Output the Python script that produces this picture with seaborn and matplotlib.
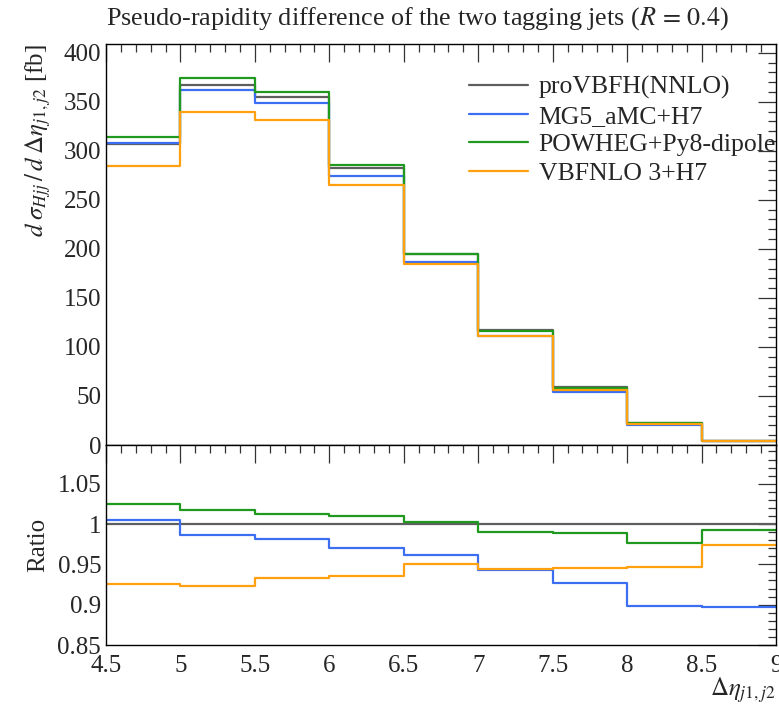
import numpy as np
import pandas as pd
import matplotlib
matplotlib.use("Agg")
import matplotlib.pyplot as plt
from matplotlib.ticker import MultipleLocator, FixedLocator
import seaborn as sns

# ---- data ----
bin_edges = [4.5, 5.0, 5.5, 6.0, 6.5, 7.0, 7.5, 8.0, 8.5, 9.0]
x_tick_labels = ["4.5", "5", "5.5", "6", "6.5", "7", "7.5", "8", "8.5", "9"]
series_names = ["proVBFH(NNLO)", "MG5_aMC+H7", "POWHEG+Py8-dipole", "VBFNLO 3+H7"]
provbfh = [307.0, 367.5, 355.0, 283.0, 194.5, 117.4, 58.8, 22.5, 4.30]
mg5_h7 = [308.4, 362.5, 348.4, 274.5, 187.0, 110.7, 54.53, 20.21, 3.859]
powheg_py8 = [314.5, 374.0, 359.6, 285.9, 194.9, 116.2, 58.12, 21.98, 4.270]
vbfnlo_h7 = [284.2, 339.3, 331.4, 264.8, 184.8, 110.8, 55.60, 21.31, 4.189]
y_ticks_main = [0, 50, 100, 150, 200, 250, 300, 350, 400]
y_ticks_ratio = [0.85, 0.9, 0.95, 1.0, 1.05]
y_tick_labels_ratio = ["0.85", "0.9", "0.95", "1", "1.05"]

colors = ["#5e5e5e", "#3b6ef0", "#1f9a1f", "#ffa00f"]
all_series = [provbfh, mg5_h7, powheg_py8, vbfnlo_h7]

sns.set_theme(style="white")
plt.rcParams["font.family"] = ["Liberation Serif", "DejaVu Serif"]
plt.rcParams["mathtext.fontset"] = "stix"

fig = plt.figure(figsize=(7.79, 7.11), dpi=100)
W, H = 779, 711
left, right = 106 / W, 776 / W
ax = fig.add_axes([left, 1 - 445 / H, right - left, (445 - 44) / H])
axr = fig.add_axes([left, 1 - 645 / H, right - left, (645 - 445) / H], sharex=ax)


def step_frame(vals):
    return pd.DataFrame({"x": bin_edges, "y": list(vals) + [vals[-1]]})


for name, vals, c in zip(series_names, all_series, colors):
    d = step_frame(vals)
    sns.lineplot(data=d, x="x", y="y", ax=ax, drawstyle="steps-post",
                 color=c, lw=1.6, label=name, estimator=None, sort=False)
    ratio = np.array(vals) / np.array(provbfh)
    dr = step_frame(list(ratio))
    sns.lineplot(data=dr, x="x", y="y", ax=axr, drawstyle="steps-post",
                 color=c, lw=1.6, legend=False, estimator=None, sort=False)

ax.set_xlim(4.5, 9.0)
ax.set_ylim(0, 409)
axr.set_ylim(0.85, 1.098)

for a in (ax, axr):
    a.tick_params(which="both", direction="in", top=True, right=True,
                  color="#333333", width=0.9)
    a.tick_params(which="major", length=13)
    a.tick_params(which="minor", length=6)
    a.xaxis.set_major_locator(FixedLocator(bin_edges))
    a.xaxis.set_minor_locator(MultipleLocator(0.1))
    for s in a.spines.values():
        s.set_color("black")
        s.set_linewidth(1.0)
    a.set_xlabel("")
    a.set_ylabel("")

ax.yaxis.set_major_locator(FixedLocator(y_ticks_main))
ax.yaxis.set_minor_locator(MultipleLocator(10))
ax.set_yticklabels([str(v) for v in y_ticks_main], fontsize=18)
plt.setp(ax.get_xticklabels(), visible=False)

axr.yaxis.set_major_locator(FixedLocator(y_ticks_ratio))
axr.yaxis.set_minor_locator(MultipleLocator(0.01))
axr.set_yticklabels(y_tick_labels_ratio, fontsize=18)
axr.set_xticklabels(x_tick_labels, fontsize=18)
axr.tick_params(axis="x", pad=7)

fig.text(left, 1 - 19 / H, r"Pseudo-rapidity difference of the two tagging jets ($R\,=\,0.4$)",
         ha="left", va="center", fontsize=18.8)
fig.text(38 / W, 1 - 44 / H, r"$d\;\sigma_{Hjj}\,/\,d\;\Delta\eta_{j1,j2}$ [fb]",
         rotation=90, ha="center", va="top", fontsize=18)
fig.text(38 / W, 1 - 545 / H, "Ratio", rotation=90, ha="center", va="center", fontsize=18)
fig.text(right, 1 - 690 / H, r"$\Delta\eta_{j1,j2}$", ha="right", va="center", fontsize=18)

leg = ax.legend(loc="upper left", bbox_to_anchor=(0.527, 0.947), frameon=False,
                fontsize=18.5, handlelength=2.3, handletextpad=0.4, labelspacing=0.22,
                borderaxespad=0.0)
for line in leg.get_lines():
    line.set_linewidth(1.6)

fig.savefig("out.png", dpi=100)
